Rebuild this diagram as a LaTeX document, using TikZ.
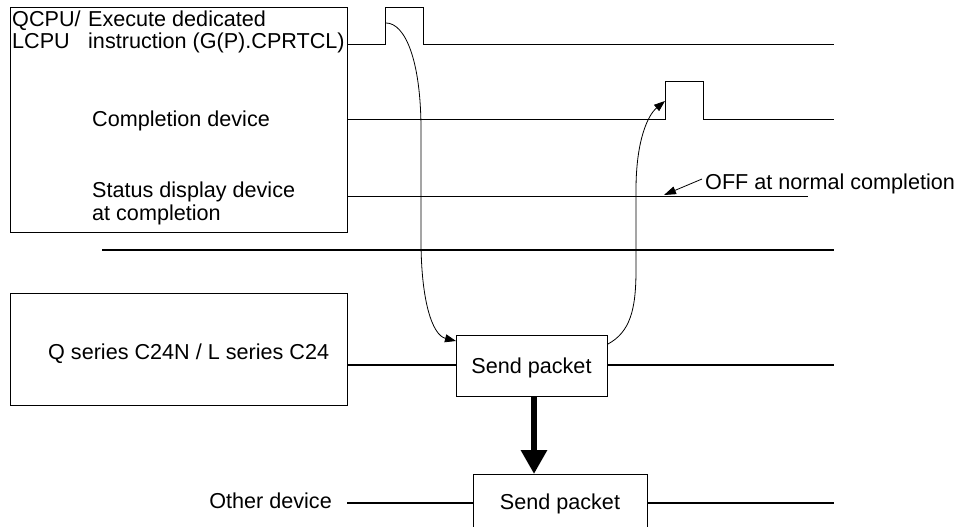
\documentclass[tikz,border=0pt]{standalone}
\usepackage{fontspec}
\setmainfont{Liberation Sans}
\usetikzlibrary{arrows.meta}
\begin{document}
\begin{tikzpicture}[x=1pt,y=-1pt,
  thin line/.style={line width=0.9pt},
  thick line/.style={line width=1.9pt},
  boxstyle/.style={draw,line width=0.9pt,inner sep=0pt,anchor=north west},
  lbl/.style={inner sep=0pt,anchor=base west},
  curvearrow/.style={line width=0.8pt,-{Triangle[length=11pt,width=8pt]}},
  font=\fontsize{21.6}{22}\selectfont]
\useasboundingbox (0,0) rectangle (959,527);
\clip (0,0) rectangle (959,527);
% top CPU box
\node[boxstyle,minimum width=337pt,minimum height=225pt] (cpu) at (10,7) {};
\node[lbl] (qcpu) at (12,27) {QCPU/};
\node[lbl] (lcpu) at (12,49) {LCPU};
\node[lbl] (exe1) at (88,27) {Execute dedicated};
\node[lbl] (exe2) at (88,49) {instruction (G(P).CPRTCL)};
\node[lbl] (comp) at (92,126) {Completion device};
\node[lbl] (stat1) at (92,197) {Status display device};
\node[lbl] (stat2) at (92,220) {at completion};
% timing lines
\coordinate (a0) at (347,44);
\coordinate (a1) at (385,44);
\coordinate (a2) at (385,7);
\coordinate (a3) at (423,7);
\coordinate (a4) at (423,44);
\coordinate (a5) at (834,44);
\draw[thin line] (a0) -- (a1) -- (a2) -- (a3) -- (a4) -- (a5);
\coordinate (b0) at (347,119);
\coordinate (b1) at (665,119);
\coordinate (b2) at (665,81);
\coordinate (b3) at (703,81);
\coordinate (b4) at (703,119);
\coordinate (b5) at (834,119);
\draw[thin line] (b0) -- (b1) -- (b2) -- (b3) -- (b4) -- (b5);
\coordinate (c0) at (347,196);
\coordinate (c1) at (808,196);
\draw[thin line] (c0) -- (c1);
% OFF label
\node[lbl] (off) at (705,189) {OFF at normal completion};
\coordinate (offstart) at (702,179);
\coordinate (offtip) at (664,195);
\draw[line width=0.8pt,-{Triangle[length=12pt,width=8pt]}] (offstart) -- (offtip);
% separator
\coordinate (s0) at (102,250);
\coordinate (s1) at (834,250);
\draw[thick line] (s0) -- (s1);
% C24 box
\node[boxstyle,minimum width=337pt,minimum height=112pt] (c24) at (10,293) {};
\node[lbl] (c24t) at (48,359) {Q series C24N / L series C24};
\node[boxstyle,minimum width=151pt,minimum height=61pt] (sp1) at (456,335) {};
\node[lbl,anchor=base] (sp1t) at (531.5,373) {Send packet};
\coordinate (d0) at (347,365);
\coordinate (d1) at (834,365);
\draw[thick line] (d0) -- (sp1.west |- d0);
\draw[thick line] (sp1.east |- d0) -- (d1);
% Other device
\node[lbl,anchor=base east] (oth) at (332,508) {Other device};
\node[boxstyle,minimum width=174pt,minimum height=70pt] (sp2) at (473,474) {};
\node[lbl,anchor=base] (sp2t) at (560,509) {Send packet};
\coordinate (e0) at (347,503);
\coordinate (e1) at (834,503);
\draw[thick line] (e0) -- (sp2.west |- e0);
\draw[thick line] (sp2.east |- e0) -- (e1);
% thick arrow
\coordinate (ta0) at (534,396);
\coordinate (ta1) at (534,474);
\draw[line width=6pt,-{Triangle[length=24pt,width=25pt]}] (ta0) -- (ta1);
% curves
\coordinate (k0) at (386,23);
\coordinate (k1) at (456,341);
\draw[curvearrow] (k0) .. controls (405,23) and (421,60) .. (421,130) -- (421,240) .. controls (421,300) and (432,335) .. (k1);
\coordinate (m0) at (608,344);
\coordinate (m1) at (665,101);
\draw[curvearrow] (m0) .. controls (630,332) and (636,310) .. (636,270) -- (636,190) .. controls (636,140) and (648,115) .. (m1);
\end{tikzpicture}
\end{document}
